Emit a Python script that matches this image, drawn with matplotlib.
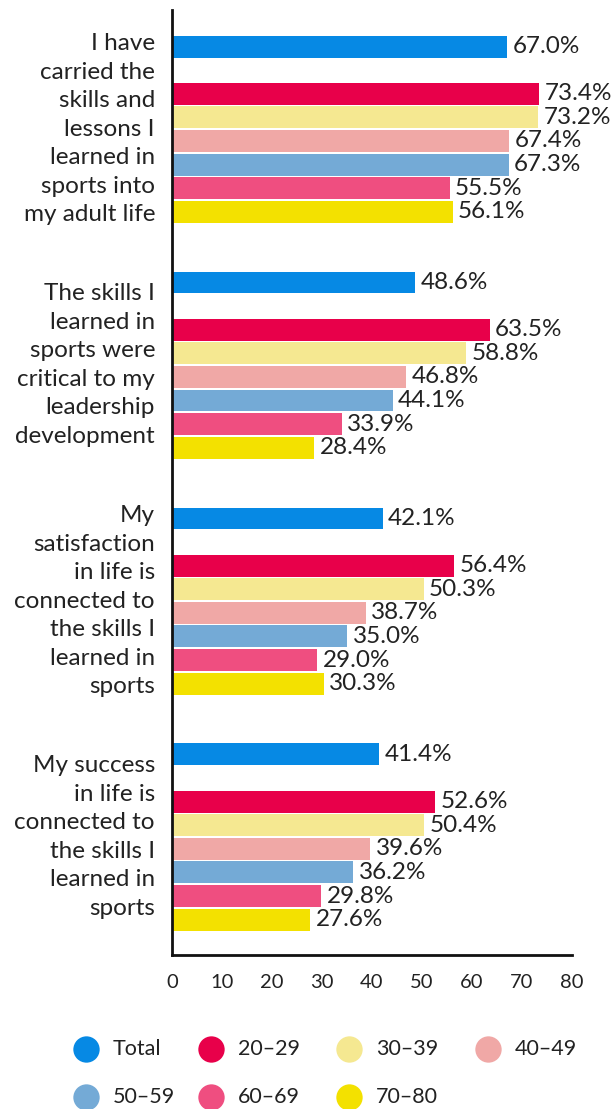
import matplotlib.pyplot as plt
import numpy as np

plt.rcParams['font.family'] = ['Lato', 'DejaVu Sans']

statements = [
    "I have\ncarried the\nskills and\nlessons I\nlearned in\nsports into\nmy adult life",
    "The skills I\nlearned in\nsports were\ncritical to my\nleadership\ndevelopment",
    "My\nsatisfaction\nin life is\nconnected to\nthe skills I\nlearned in\nsports",
    "My success\nin life is\nconnected to\nthe skills I\nlearned in\nsports",
]
series = ["Total", "20\u201329", "30\u201339", "40\u201349", "50\u201359", "60\u201369", "70\u201380"]
colors = ["#0689E4", "#E8004A", "#F5E891", "#F0A8A6", "#74AAD6", "#EF4E80", "#F3E100"]

total = [67.0, 48.6, 42.1, 41.4]
age_20_29 = [73.4, 63.5, 56.4, 52.6]
age_30_39 = [73.2, 58.8, 50.3, 50.4]
age_40_49 = [67.4, 46.8, 38.7, 39.6]
age_50_59 = [67.3, 44.1, 35.0, 36.2]
age_60_69 = [55.5, 33.9, 29.0, 29.8]
age_70_80 = [56.1, 28.4, 30.3, 27.6]
values = [total, age_20_29, age_30_39, age_40_49, age_50_59, age_60_69, age_70_80]

# offsets of each series inside a group (gap after Total)
offsets = [0, 2, 3, 4, 5, 6, 7]
group_pitch = 10

fig = plt.figure(figsize=(6.13, 11.09), dpi=100)
ax = fig.add_axes([172 / 613, 154 / 1109, 400 / 613, 945 / 1109])

txt = "#222222"
for s, (name, col, vals) in enumerate(zip(series, colors, values)):
    y = np.arange(len(statements)) * group_pitch + offsets[s]
    ax.barh(y, vals, height=0.93, color=col, label=name)
    for yi, v in zip(y, vals):
        ax.text(v + 1.1, yi, f"{v:.1f}%", va="center", ha="left", fontsize=17.5, color=txt)

for g, lab in enumerate(statements):
    ax.text(-3.4, g * group_pitch + 3.5, lab, ha="right", va="center", fontsize=17.5,
            color=txt, linespacing=1.44)

ax.set_xlim(0, 80)
ax.set_ylim(38.5, -1.55)
ax.set_xticks(range(0, 81, 10))
ax.set_yticks([])
ax.tick_params(axis="x", length=0, pad=14, labelsize=14.5, labelcolor=txt)
for side in ["top", "right"]:
    ax.spines[side].set_visible(False)
for side in ["left", "bottom"]:
    ax.spines[side].set_linewidth(2)
    ax.spines[side].set_color("#111111")

# legend drawn by hand in two rows
lax = fig.add_axes([0, 0, 1, 90 / 1109])
lax.set_xlim(0, 613)
lax.set_ylim(90, 0)
lax.axis("off")
col_x = [86, 211, 349, 488]
row_y = [30, 78]
for i, (name, col) in enumerate(zip(series, colors)):
    r, c = divmod(i, 4)
    lax.scatter(col_x[c], row_y[r], s=360, color=col, marker="o", linewidths=0, clip_on=False)
    lax.text(col_x[c] + 27, row_y[r], name, va="center", ha="left", fontsize=15.5, color=txt)

fig.savefig("out.png", dpi=100)
